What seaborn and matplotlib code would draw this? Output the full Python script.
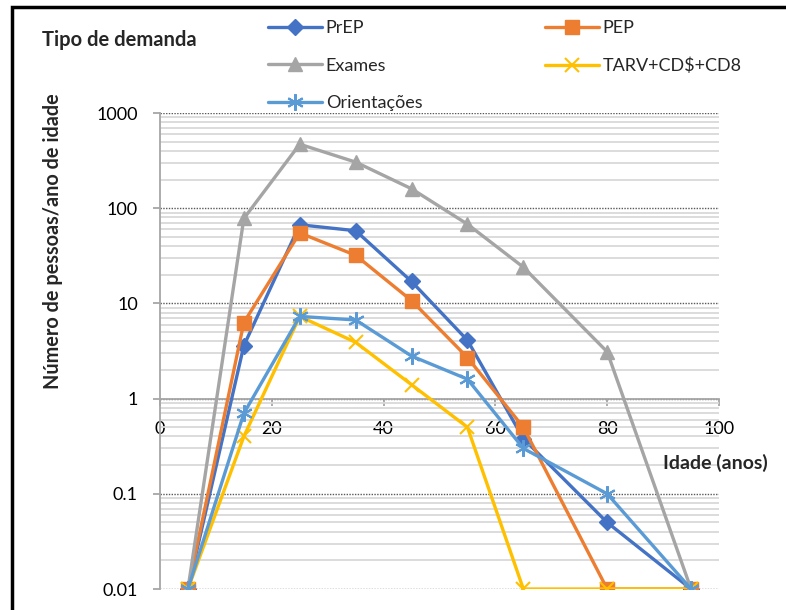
import matplotlib
matplotlib.use('Agg')
import matplotlib.pyplot as plt
import seaborn as sns
import pandas as pd
from matplotlib.patches import Rectangle
from matplotlib.ticker import FixedLocator, LogLocator, NullFormatter

# ---- data ----
ages = [5, 15, 25, 35, 45, 55, 65, 80, 95]
prep = [0.01, 3.6, 67, 58, 17, 4.1, 0.38, 0.05, 0.01]
pep = [0.01, 6.3, 55, 32, 10.7, 2.7, 0.5, 0.01, 0.01]
exames = [0.01, 78, 470, 305, 160, 68, 24, 3.1, 0.01]
tarv = [0.01, 0.4, 7.3, 3.9, 1.4, 0.5, 0.01, 0.01, 0.01]
orientacoes = [0.01, 0.7, 7.3, 6.7, 2.8, 1.6, 0.3, 0.1, 0.01]

series_names = ['PrEP', 'PEP', 'Exames', 'TARV+CD$+CD8', 'Orientações']
series_values = [prep, pep, exames, tarv, orientacoes]
colors = ['#4472C4', '#ED7D31', '#A5A5A5', '#FFC000', '#5B9BD5']
markers = ['D', 's', '^', 'x', (6, 2, 0)]

y_ticks = [0.01, 0.1, 1, 10, 100, 1000]
y_tick_labels = ['0.01', '0.1', '1', '10', '100', '1000']
x_ticks = [0, 20, 40, 60, 80, 100]
x_tick_labels = ['0', '20', '40', '60', '80', '100']

sns.set_theme(style='white')
plt.rcParams['font.family'] = ['Lato', 'DejaVu Sans']

W, H = 786, 610
fig = plt.figure(figsize=(W / 100, H / 100), dpi=100)
ax = fig.add_axes([160 / W, 1 - 589 / H, (719 - 160) / W, (589 - 113) / H])

for i, (name, vals, col, mk) in enumerate(zip(series_names, series_values, colors, markers)):
    df = pd.DataFrame({'age': ages, 'val': vals})
    if isinstance(mk, tuple):
        ms, mew = 12, 1.5
    else:
        ms, mew = {'D': 8.5, 's': 10, '^': 10, 'x': 10}[mk], (1.5 if mk == 'x' else 1)
    sns.lineplot(data=df, x='age', y='val', ax=ax, color=col, lw=2.4,
                 marker=mk, markersize=ms, markeredgecolor=col,
                 markeredgewidth=mew, zorder=3 + i, label=name, legend=False)

lines = ax.get_lines()

ax.set_yscale('log')
ax.set_xlim(0, 100)
ax.set_ylim(0.01, 1000)
ax.yaxis.set_major_locator(FixedLocator(y_ticks))
ax.set_yticklabels(y_tick_labels)
ax.yaxis.set_minor_locator(LogLocator(base=10, subs=range(2, 10)))
ax.yaxis.set_minor_formatter(NullFormatter())
ax.set_xticks(x_ticks)
ax.set_xticklabels(x_tick_labels)

ax.grid(False)
ax.yaxis.grid(True, which='major', ls=(0, (1, 1)), color='#595959', lw=1)
ax.yaxis.grid(True, which='minor', ls='-', color='#d9d9d9', lw=1.3)
ax.set_axisbelow(True)

for s in ['top', 'right']:
    ax.spines[s].set_visible(False)
ax.spines['left'].set_color('#a6a6a6')
ax.spines['left'].set_linewidth(1.3)
ax.spines['bottom'].set_position(('data', 1))
ax.spines['bottom'].set_color('#a6a6a6')
ax.spines['bottom'].set_linewidth(1.3)

ax.tick_params(axis='y', which='major', direction='out', length=5, width=1.3,
               color='#a6a6a6', left=True, pad=11, labelsize=13, labelcolor='black')
ax.tick_params(axis='y', which='minor', length=0)
ax.tick_params(axis='x', direction='out', length=5, width=1.3, color='#a6a6a6',
               bottom=True, pad=11, labelsize=13, labelcolor='black')

ax.set_xlabel('')
ax.set_ylabel('Número de pessoas/ano de idade', fontsize=14.3, fontweight='bold')
ax.yaxis.set_label_coords((63 - 160) / 559, (589 - 241) / 476)

fig.text(715 / W, 1 - 463 / H, 'Idade (anos)', ha='center', va='center',
         fontsize=14, fontweight='bold')
fig.text(42 / W, 1 - 40 / H, 'Tipo de demanda', ha='left', va='center',
         fontsize=14.5, fontweight='bold')

# legend as two columns
col1 = [lines[0], lines[2], lines[4]]
col2 = [lines[1], lines[3]]
leg_kw = dict(frameon=False, fontsize=13, handlelength=3.0, handletextpad=0.2,
              labelspacing=1.2, borderpad=0, borderaxespad=0)
leg1 = fig.legend(col1, [l.get_label() for l in col1], loc='upper left',
                  bbox_to_anchor=(268 / W, 1 - 20 / H), **leg_kw)
leg2 = fig.legend(col2, [l.get_label() for l in col2], loc='upper left',
                  bbox_to_anchor=(545 / W, 1 - 20 / H), **leg_kw)

fig.add_artist(Rectangle((12 / W, -0.1), 2, 1.1 - 7 / H, transform=fig.transFigure,
                         fill=False, ec='black', lw=2.5))

fig.savefig('out.png', dpi=100)
